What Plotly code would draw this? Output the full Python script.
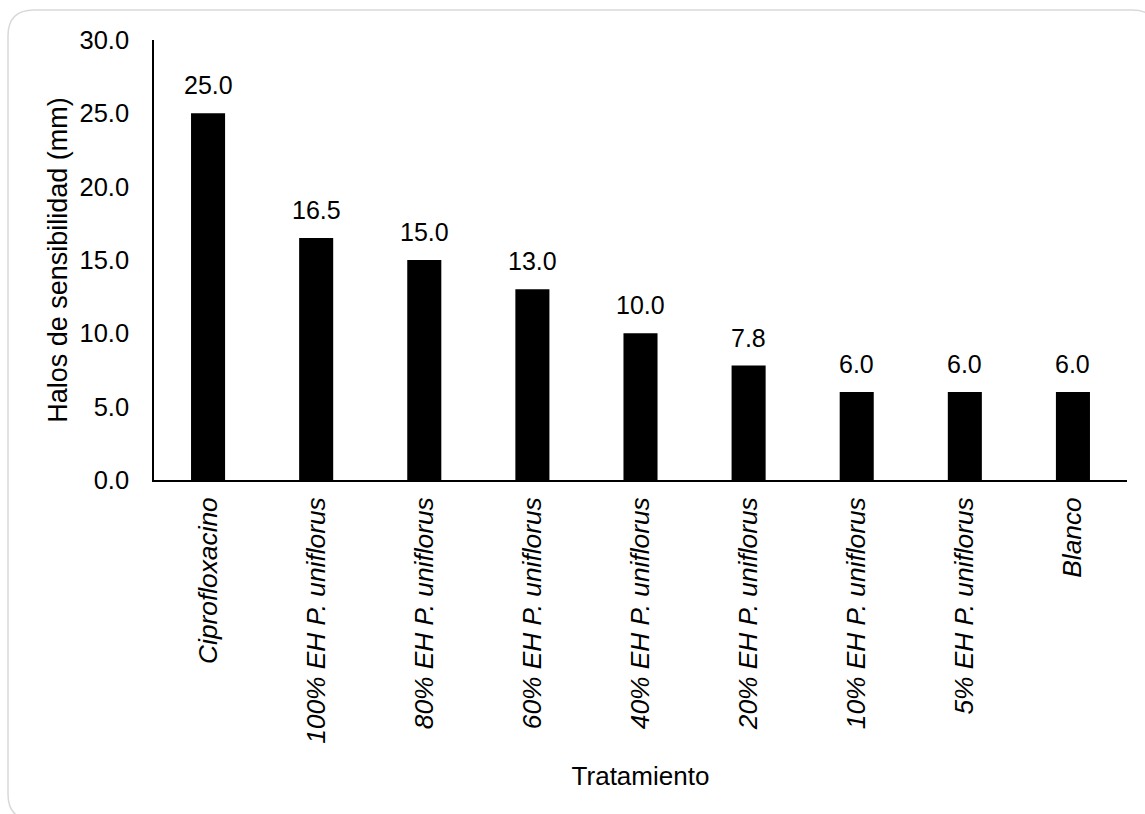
import plotly.graph_objects as go

categories = [
    "Ciprofloxacino",
    "100% EH P. uniflorus",
    "80% EH P. uniflorus",
    "60% EH P. uniflorus",
    "40% EH P. uniflorus",
    "20% EH P. uniflorus",
    "10% EH P. uniflorus",
    "5% EH P. uniflorus",
    "Blanco",
]
values = [25.0, 16.5, 15.0, 13.0, 10.0, 7.8, 6.0, 6.0, 6.0]
y_ticks = [0, 5, 10, 15, 20, 25, 30]

W, H = 1145, 814
L, R, T, B = 154, 18, 40, 334
PW, PH = W - L - R, H - T - B
FONT = "Liberation Sans, Arial, sans-serif"
FS_TICK = 25.5
FS_CAT = 26.3
FS_XTITLE = 26
FS_YTITLE = 27
FS_LABEL = 25

fig = go.Figure()
fig.add_trace(go.Bar(
    x=categories,
    y=values,
    marker=dict(color="#000000", line=dict(width=0)),
    cliponaxis=False,
    hoverinfo="x+y",
))

for c, v in zip(categories, values):
    fig.add_annotation(
        x=c, y=v, xref="x", yref="y",
        text=f"{v:.1f}",
        showarrow=False,
        yanchor="bottom",
        yshift=12,
        font=dict(family=FONT, size=FS_LABEL, color="#000000"),
    )

def px2paper(px, py):
    return (px - L) / PW, (H - B - py) / PH

def rounded_rect(x0, y0, x1, y1, r):
    def P(x, y):
        a, b = px2paper(x, y)
        return f"{a:.5f},{b:.5f}"
    return (
        f"M {P(x0 + r, y0)} L {P(x1 - r, y0)} Q {P(x1, y0)} {P(x1, y0 + r)} "
        f"L {P(x1, y1 - r)} Q {P(x1, y1)} {P(x1 - r, y1)} "
        f"L {P(x0 + r, y1)} Q {P(x0, y1)} {P(x0, y1 - r)} "
        f"L {P(x0, y0 + r)} Q {P(x0, y0)} {P(x0 + r, y0)} Z"
    )

fig.add_shape(
    type="path",
    xref="paper", yref="paper",
    path=rounded_rect(8, 10, 1158, 820, 26),
    line=dict(color="#d9d9d9", width=1.5),
    fillcolor="rgba(0,0,0,0)",
    layer="below",
)

fig.update_layout(
    width=W, height=H,
    margin=dict(l=L, r=R, t=T, b=B, autoexpand=False),
    paper_bgcolor="#ffffff",
    plot_bgcolor="#ffffff",
    bargap=0.685,
    showlegend=False,
    font=dict(family=FONT, size=FS_TICK, color="#000000"),
    xaxis=dict(
        tickangle=-90,
        tickfont=dict(family=FONT, size=FS_CAT, color="#000000", style="italic"),
        showline=True, linecolor="#000000", linewidth=1.5,
        ticks="", showgrid=False, zeroline=False,
        ticklabelstandoff=5,
        title=dict(text="Tratamiento", font=dict(family=FONT, size=FS_XTITLE), standoff=24),
        automargin=False,
    ),
    yaxis=dict(
        range=[0, 30],
        tickvals=y_ticks,
        tickformat=".1f",
        tickfont=dict(family=FONT, size=FS_TICK, color="#000000"),
        showline=True, linecolor="#000000", linewidth=1.5,
        ticks="", showgrid=False, zeroline=False,
        ticklabelstandoff=18,
        title=dict(text="Halos de sensibilidad (mm)", font=dict(family=FONT, size=FS_YTITLE), standoff=4),
        automargin=False,
    ),
)

fig.write_html("out.html")
